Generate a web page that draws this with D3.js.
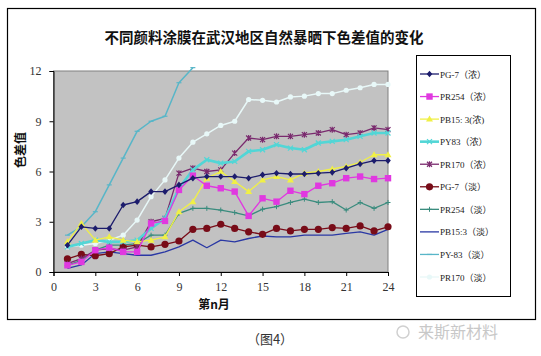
<!DOCTYPE html>
<html><head><meta charset="utf-8">
<script src="https://cdn.jsdelivr.net/npm/d3@7"></script>
<style>body{margin:0;background:#fff;}svg{display:block;}</style>
</head><body>
<script>
const months = d3.range(1, 25);
const xTicks = [0,3,6,9,12,15,18,21,24];
const yTicks = [0,3,6,9,12];
const seriesNames = ["PG-7（浓）","PR254（浓）","PB15: 3(浓)","PY83（浓）","PR170（浓）","PG-7（淡）","PR254（淡）","PB15:3（淡）","PY-83（淡）","PR170（淡）"];
const pg7Dark   = [1.6,2.7,2.6,2.6,4.0,4.2,4.8,4.8,5.2,5.6,5.7,5.7,5.7,5.6,5.8,5.9,5.85,5.85,5.9,5.95,6.2,6.45,6.65,6.65];
const pr254Dark = [0.4,0.6,1.3,1.45,1.2,1.2,2.9,3.05,4.9,5.75,5.15,5.0,4.8,3.35,4.4,4.2,4.85,4.65,5.15,5.3,5.6,5.7,5.55,5.6];
const pb153Dark = [1.8,2.9,1.9,2.1,1.9,1.8,1.9,2.1,3.6,4.2,5.6,6.0,5.4,4.8,5.5,5.7,5.5,5.9,6.0,6.15,6.3,6.55,7.0,7.0];
const py83Dark  = [1.5,1.7,1.9,1.8,1.8,1.9,2.6,3.2,5.0,6.1,6.7,6.5,6.6,7.2,7.3,7.6,7.4,7.3,7.7,7.8,7.9,8.1,8.3,8.3];
const pr170Dark = [0.5,0.8,1.3,1.4,1.3,1.5,3.0,3.2,5.9,6.2,6.0,6.1,7.1,8.0,7.9,8.1,8.1,8.2,8.3,8.5,8.2,8.3,8.6,8.5];
const pg7Light  = [0.78,1.05,0.97,1.1,1.5,1.6,1.5,1.65,1.85,2.55,2.6,2.85,2.6,2.4,2.25,2.6,2.45,2.55,2.55,2.65,2.6,2.75,2.45,2.7];
const pr254Light= [0.4,0.7,1.3,1.6,1.6,1.7,2.2,2.2,3.5,3.8,3.8,3.7,3.55,3.35,3.75,3.9,4.15,4.35,4.15,4.2,3.7,4.15,3.8,4.15];
const pb153Light= [0.22,0.42,1.1,1.2,1.1,1.0,1.0,1.2,1.5,1.9,1.45,1.9,1.8,2.0,2.15,2.1,2.1,2.2,2.2,2.2,2.3,2.4,2.2,2.55];
const py83Light = [2.2,2.7,3.6,5.2,6.8,8.4,9.0,9.3,11.3,12.2];
const pr170Light= [1.5,1.6,1.7,1.9,2.2,3.1,4.5,5.5,6.8,7.75,8.25,8.75,9.0,10.3,10.25,10.15,10.45,10.5,10.65,10.65,10.85,11.0,11.2,11.2];
const seriesValues = [pg7Dark,pr254Dark,pb153Dark,py83Dark,pr170Dark,pg7Light,pr254Light,pb153Light,py83Light,pr170Light];

const colors  = ["#1c1c6c","#e038e0","#f0f046","#52d6d6","#7a2a6e","#780c18","#3a8c7e","#2a38a4","#58b6c8","#e8f8f8"];
const markers = ["diamond","square","triangle","x","star","circle","plus","none","dash","circle"];
const widths  = [1.3,1.3,1.3,2.6,1.3,1.3,1.3,1.3,1.5,1.5];

const W=541,H=356;
const svg=d3.select("body").append("svg").attr("width",W).attr("height",H);
svg.append("rect").attr("x",7.5).attr("y",8.5).attr("width",528).attr("height",311).attr("fill","#fff").attr("stroke","#000").attr("stroke-width",1.2);

const x=d3.scaleLinear().domain([0,24]).range([53.5,388]);
const y=d3.scaleLinear().domain([0,12]).range([272,71]);

svg.append("rect").attr("x",x(0)).attr("y",y(12)).attr("width",x(24)-x(0)).attr("height",y(0)-y(12)).attr("fill","#c2c2c2").attr("stroke","#808080").attr("stroke-width",1);

const serif="'Liberation Serif','DejaVu Serif',serif";
const xa=svg.append("g").attr("transform",`translate(0,${y(0)})`).call(d3.axisBottom(x).tickValues(xTicks).tickSize(4).tickPadding(6));
const ya=svg.append("g").attr("transform",`translate(${x(0)},0)`).call(d3.axisLeft(y).tickValues(yTicks).tickSize(4).tickPadding(8));
[xa,ya].forEach(a=>{a.select(".domain").attr("stroke","#000");a.selectAll(".tick line").attr("stroke","#000");a.selectAll("text").attr("font-family",serif).attr("font-size",12).attr("fill","#333");});

svg.append("text").attr("x",264).attr("y",43).attr("text-anchor","middle").attr("font-family","'Noto Sans CJK SC',sans-serif").attr("font-weight","bold").attr("font-size",14.5).attr("fill","#111").text("不同颜料涂膜在武汉地区自然暴晒下色差值的变化");
svg.append("text").attr("transform","translate(25,150) rotate(-90)").attr("text-anchor","middle").attr("font-family","'Noto Sans CJK SC',sans-serif").attr("font-weight","bold").attr("font-size",12).attr("fill","#111").text("色差值");
svg.append("text").attr("x",214).attr("y",309).attr("text-anchor","middle").attr("font-family","'Noto Sans CJK SC',sans-serif").attr("font-weight","bold").attr("font-size",12).attr("fill","#111").text("第n月");
svg.append("text").attr("x",270).attr("y",344).attr("text-anchor","middle").attr("font-family","'Noto Sans CJK SC',sans-serif").attr("font-size",13).attr("fill","#333").text("（图4）");
svg.append("text").attr("x",418).attr("y",338).attr("font-family","'Noto Sans CJK SC',sans-serif").attr("font-size",16).attr("fill","#c8c8c8").text("来斯新材料");
svg.append("circle").attr("cx",403).attr("cy",332).attr("r",6).attr("fill","none").attr("stroke","#d0d0d0").attr("stroke-width",1.5);

function drawMarker(g,type,cx,cy,color){
  const s=2.8;
  if(type==="diamond") g.append("path").attr("d",`M${cx},${cy-s-0.5}L${cx+s},${cy}L${cx},${cy+s+0.5}L${cx-s},${cy}Z`).attr("fill",color);
  else if(type==="square") g.append("rect").attr("x",cx-3.2).attr("y",cy-3.2).attr("width",6.4).attr("height",6.4).attr("fill",color);
  else if(type==="triangle") g.append("path").attr("d",`M${cx},${cy-3.5}L${cx+3.5},${cy+2.5}L${cx-3.5},${cy+2.5}Z`).attr("fill",color);
  else if(type==="x") g.append("path").attr("d",`M${cx-2.5},${cy-2.5}L${cx+2.5},${cy+2.5}M${cx-2.5},${cy+2.5}L${cx+2.5},${cy-2.5}`).attr("stroke",color).attr("stroke-width",1.2);
  else if(type==="star") g.append("path").attr("d",`M${cx-2.5},${cy-2.5}L${cx+2.5},${cy+2.5}M${cx-2.5},${cy+2.5}L${cx+2.5},${cy-2.5}M${cx},${cy-3}L${cx},${cy+3}`).attr("stroke",color).attr("stroke-width",1.2);
  else if(type==="circle") g.append("circle").attr("cx",cx).attr("cy",cy).attr("r",color==="#780c18"?3.6:2.6).attr("fill",color);
  else if(type==="plus") g.append("path").attr("d",`M${cx-2.5},${cy}L${cx+2.5},${cy}M${cx},${cy-2.5}L${cx},${cy+2.5}`).attr("stroke",color).attr("stroke-width",1);
  else if(type==="dash") g.append("path").attr("d",`M${cx-2.5},${cy}L${cx+2.5},${cy}`).attr("stroke",color).attr("stroke-width",1.2);
}

const line=d3.line().x((d,i)=>x(months[i])).y(d=>y(d));
const order=[9,8,7,6,5,4,3,2,1,0];
order.forEach(k=>{
  const vals=seriesValues[k];
  const g=svg.append("g");
  g.append("path").datum(vals).attr("d",line).attr("fill","none").attr("stroke",colors[k]).attr("stroke-width",widths[k]).attr("stroke-linejoin","round");
  vals.forEach((v,i)=>drawMarker(g,markers[k],x(months[i]),y(v),colors[k]));
});

// legend
svg.append("rect").attr("x",416.5).attr("y",55.5).attr("width",94).attr("height",241).attr("fill","#fff").attr("stroke","#000").attr("stroke-width",1);
const ly=d3.scaleLinear().domain([0,9]).range([74,277]);
seriesNames.forEach((n,k)=>{
  const g=svg.append("g");
  const yy=ly(k);
  g.append("line").attr("x1",420).attr("x2",439).attr("y1",yy).attr("y2",yy).attr("stroke",colors[k]).attr("stroke-width",k===3?2.6:1.3);
  drawMarker(g,markers[k],429.5,yy,colors[k]);
  g.append("text").attr("x",440).attr("y",yy+3.5).attr("font-family","'Liberation Serif','Noto Sans CJK SC',serif").attr("font-size",9).attr("fill","#222").text(n);
});
</script>
</body></html>
